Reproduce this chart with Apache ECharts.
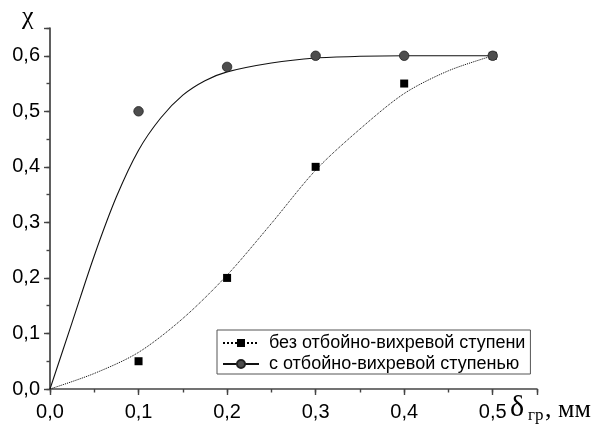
<!DOCTYPE html>
<html>
<head>
<meta charset="utf-8">
<script src="https://cdn.jsdelivr.net/npm/echarts@6/dist/echarts.min.js"></script>
<style>html,body{margin:0;padding:0;background:#fff}#c{width:598px;height:424px}</style>
</head>
<body>
<div id="c"></div>
<script>
// Measured points
var pointX = [0.1, 0.2, 0.3, 0.4, 0.5];
var squareY = [0.05, 0.2, 0.4, 0.55, 0.6];
var circleY = [0.5, 0.58, 0.6, 0.6, 0.6];

// Fitted curves
var solidX = [0, 0.025, 0.05, 0.075, 0.1, 0.125, 0.15, 0.175, 0.2, 0.25, 0.3, 0.35, 0.4, 0.45, 0.5];
var solidY = [0, 0.12, 0.24, 0.346, 0.43, 0.488, 0.529, 0.555, 0.571, 0.587, 0.596, 0.599, 0.6, 0.6, 0.6];
var dottedX = [0, 0.05, 0.1, 0.15, 0.2, 0.25, 0.3, 0.35, 0.4, 0.45, 0.5];
var dottedY = [0, 0.028, 0.066, 0.127, 0.205, 0.298, 0.394, 0.468, 0.532, 0.573, 0.6];

var seriesNames = ['без отбойно-вихревой ступени', 'с отбойно-вихревой ступенью'];
var yName = 'χ';
var xNameMain = 'δ', xNameSub = 'гр', xNameUnit = ', мм';

function zip(a, b) { return a.map(function (v, i) { return [v, b[i]]; }); }
function fmt(v) {
  var k = Math.round(v * 10);
  if (Math.abs(v * 10 - k) > 1e-6 || v > 0.6001) return '';
  return (k / 10).toFixed(1).replace('.', ',');
}

var axisCol = '#444';
var chart = echarts.init(document.getElementById('c'), null, {renderer: 'canvas'});
chart.setOption({
  animation: false,
  backgroundColor: '#fff',
  grid: {left: 50, right: 61, top: 28, bottom: 35, containLabel: false},
  xAxis: [{
    type: 'value', min: 0, max: 0.55, interval: 0.05,
    axisLine: {show: true, lineStyle: {color: axisCol, width: 1.7}},
    axisTick: {show: true, length: 3.5, lineStyle: {color: axisCol, width: 1.4}},
    axisLabel: {formatter: fmt, fontFamily: 'Liberation Sans', fontSize: 20, color: '#000', margin: 13},
    splitLine: {show: false}
  }, {
    type: 'value', min: 0, max: 0.55, interval: 0.1, position: 'bottom', offset: 0,
    axisLine: {show: false},
    axisTick: {show: true, length: 6, lineStyle: {color: axisCol, width: 1.4}},
    axisLabel: {show: false}, splitLine: {show: false}
  }],
  yAxis: [{
    type: 'value', min: 0, max: 0.65, interval: 0.05,
    axisLine: {show: true, lineStyle: {color: axisCol, width: 1.7}},
    axisTick: {show: true, length: 3.5, lineStyle: {color: axisCol, width: 1.4}},
    axisLabel: {formatter: fmt, fontFamily: 'Liberation Sans', fontSize: 20, color: '#000', margin: 10},
    splitLine: {show: false}
  }, {
    type: 'value', min: 0, max: 0.65, interval: 0.1, position: 'left', offset: 0,
    axisLine: {show: false},
    axisTick: {show: true, length: 6, lineStyle: {color: axisCol, width: 1.4}},
    axisLabel: {show: false}, splitLine: {show: false}
  }],
  legend: {
    orient: 'vertical', left: 217, top: 330,
    data: seriesNames,
    itemWidth: 36, itemHeight: 10, itemGap: 3,
    padding: [4, 5, 1, 5],
    borderColor: '#555', borderWidth: 1, backgroundColor: '#fff',
    textStyle: {fontFamily: 'Liberation Sans', fontSize: 18, color: '#000', padding: [0, 0, 0, 5]}
  },
  graphic: [
    {type: 'text', left: 22, top: 4, style: {text: yName, font: '26px "Liberation Serif"', fill: '#000'}},
    {type: 'text', left: 510, top: 393, style: {text: xNameMain, font: '30px "Liberation Serif"', fill: '#000'}},
    {type: 'text', left: 528, top: 407, style: {text: xNameSub, font: '17px "Liberation Serif"', fill: '#000'}},
    {type: 'text', left: 545, top: 397, style: {text: xNameUnit, font: '26px "Liberation Serif"', fill: '#000'}}
  ],
  series: [
    {
      name: seriesNames[0], type: 'line', data: zip(dottedX, dottedY),
      smooth: 0.3, symbol: 'rect', showSymbol: false, symbolSize: 8,
      lineStyle: {color: '#000', width: 1, type: 'dotted'},
      itemStyle: {color: '#000'}, z: 2, silent: true
    },
    {
      name: seriesNames[1], type: 'line', data: zip(solidX, solidY),
      smooth: 0.3, symbol: 'circle', showSymbol: false, symbolSize: 9,
      lineStyle: {color: '#111', width: 1.1, type: 'solid'},
      itemStyle: {color: '#4d4d4d', borderColor: '#222', borderWidth: 0.8}, z: 2, silent: true
    },
    {
      name: 'pts1', type: 'scatter', data: zip(pointX, squareY),
      symbol: 'rect', symbolSize: 8, itemStyle: {color: '#000', opacity: 1}, z: 3
    },
    {
      name: 'pts2', type: 'scatter', data: zip(pointX, circleY),
      symbol: 'circle', symbolSize: 9.5, itemStyle: {color: '#4d4d4d', borderColor: '#222', borderWidth: 0.8, opacity: 1}, z: 3
    }
  ]
});
</script>
</body>
</html>
